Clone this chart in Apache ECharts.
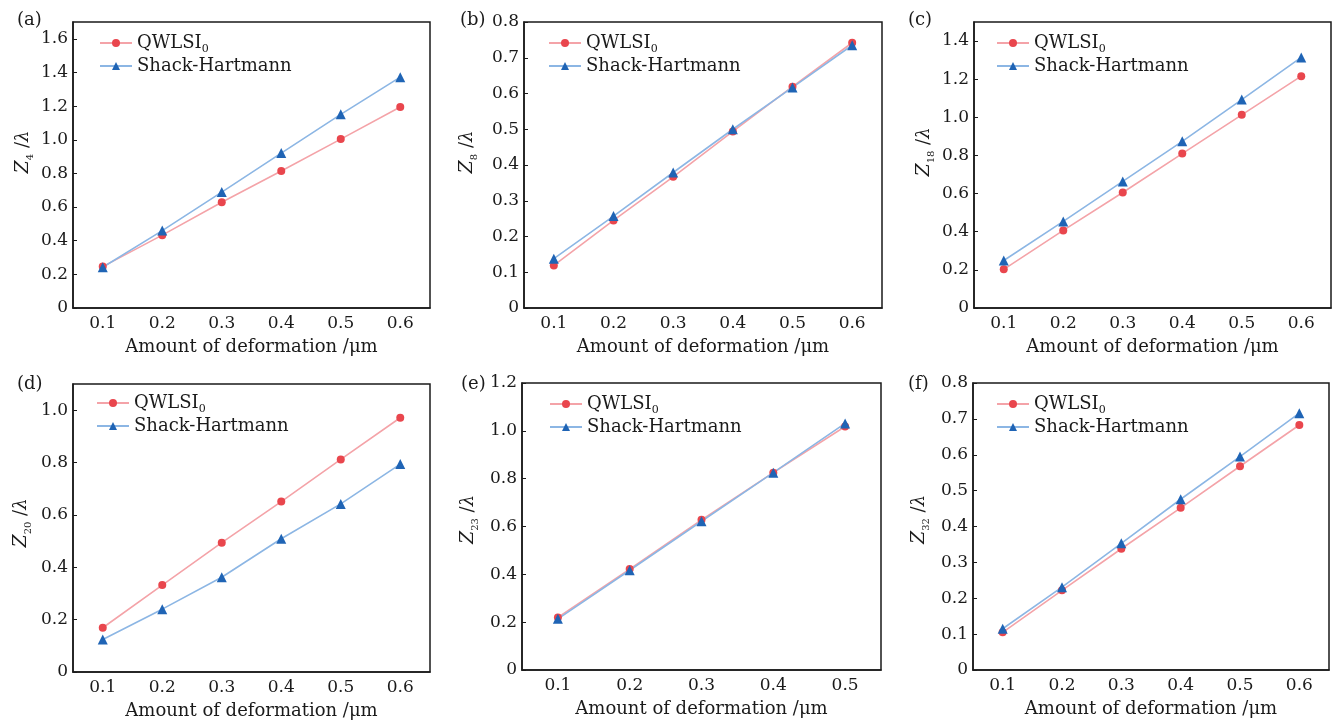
<!DOCTYPE html>
<html>
<head>
<meta charset="utf-8">
<script src="https://cdn.jsdelivr.net/npm/echarts@6/dist/echarts.min.js"></script>
<style>html,body{margin:0;padding:0;background:#fff}#c{width:1336px;height:722px}</style>
</head>
<body>
<div id="c"></div>
<script>
// ---- data ----
const xCats6 = ['0.1', '0.2', '0.3', '0.4', '0.5', '0.6'];
const xCats5 = ['0.1', '0.2', '0.3', '0.4', '0.5'];

const qwlsiZ4  = [0.246, 0.433, 0.629, 0.814, 1.004, 1.195];
const shZ4     = [0.242, 0.460, 0.689, 0.921, 1.151, 1.372];
const qwlsiZ8  = [0.119, 0.245, 0.367, 0.494, 0.619, 0.742];
const shZ8     = [0.138, 0.257, 0.379, 0.500, 0.617, 0.735];
const qwlsiZ18 = [0.203, 0.407, 0.606, 0.810, 1.013, 1.216];
const shZ18    = [0.249, 0.454, 0.664, 0.874, 1.093, 1.314];
const qwlsiZ20 = [0.169, 0.332, 0.494, 0.651, 0.812, 0.971];
const shZ20    = [0.124, 0.240, 0.362, 0.509, 0.642, 0.794];
const qwlsiZ23 = [0.220, 0.422, 0.628, 0.825, 1.018];
const shZ23    = [0.214, 0.417, 0.622, 0.825, 1.031];
const qwlsiZ32 = [0.105, 0.222, 0.338, 0.452, 0.568, 0.683];
const shZ32    = [0.115, 0.231, 0.353, 0.476, 0.595, 0.716];

const panelLabels = ['(a)', '(b)', '(c)', '(d)', '(e)', '(f)'];
const zIndex = ['4', '8', '18', '20', '23', '32'];
const xName = 'Amount of deformation /\u03bcm';
const seriesNames = ['QWLSI0', 'Shack-Hartmann'];

// ---- layout ----
const FONT = 'DejaVu Serif';
const panels = [
  {cats: xCats6, q: qwlsiZ4,  s: shZ4,  max: 1.7, iv: 0.2, grid: {left: 73,  top: 22,  width: 357, height: 286}, gap: 38, lx: 99,  ly: 34,  tx: 12,  ty: 6,   shift: 26},
  {cats: xCats6, q: qwlsiZ8,  s: shZ8,  max: 0.8, iv: 0.1, grid: {left: 524, top: 22,  width: 358, height: 286}, gap: 45, lx: 548, ly: 34,  tx: 455, ty: 6,   shift: 26},
  {cats: xCats6, q: qwlsiZ18, s: shZ18, max: 1.5, iv: 0.2, grid: {left: 974, top: 22,  width: 357, height: 286}, gap: 38, lx: 996, ly: 34,  tx: 903, ty: 6,   shift: 26},
  {cats: xCats6, q: qwlsiZ20, s: shZ20, max: 1.1, iv: 0.2, grid: {left: 73,  top: 384, width: 357, height: 288}, gap: 40, lx: 96,  ly: 394, tx: 12,  ty: 370, shift: 10},
  {cats: xCats5, q: qwlsiZ23, s: shZ23, max: 1.2, iv: 0.2, grid: {left: 522, top: 383, width: 359, height: 287}, gap: 42, lx: 549, ly: 395, tx: 456, ty: 370, shift: 14},
  {cats: xCats6, q: qwlsiZ32, s: shZ32, max: 0.8, iv: 0.1, grid: {left: 973, top: 383, width: 356, height: 287}, gap: 42, lx: 996, ly: 395, tx: 903, ty: 370, shift: 14}
];

const RED_LINE = '#f4a3a8', RED = '#e9464d';
const BLUE_LINE = '#8cb6e4', BLUE = '#1f64b5';
const DARK = '#1a1a1a';

const option = {
  backgroundColor: '#fff',
  animation: false,
  title: [], grid: [], xAxis: [], yAxis: [], legend: [], series: []
};

panels.forEach((p, i) => {
  option.title.push({text: panelLabels[i], left: p.tx, top: p.ty, textStyle: {fontFamily: FONT, fontSize: 18, fontWeight: 'normal', color: DARK}});
  option.grid.push(Object.assign({show: true, borderColor: DARK, borderWidth: 1.5, backgroundColor: 'transparent'}, p.grid));
  option.xAxis.push({
    type: 'category', gridIndex: i, data: p.cats, boundaryGap: true,
    name: xName, nameLocation: 'middle', nameGap: 30,
    nameTextStyle: {fontFamily: FONT, fontSize: 18, color: DARK},
    axisLine: {lineStyle: {color: DARK, width: 1.5}},
    axisTick: {alignWithLabel: true, inside: true, length: 4, lineStyle: {color: DARK}},
    axisLabel: {fontFamily: FONT, fontSize: 17, color: DARK, margin: 7},
    splitLine: {show: false}
  });
  const showMax = Math.abs(Math.round(p.max / p.iv) * p.iv - p.max) < 1e-9;
  option.yAxis.push({
    type: 'value', gridIndex: i, min: 0, max: p.max, interval: p.iv,
    name: '{z|Z}{zs|' + zIndex[i] + '}{t| /}{l|\u03bb}', nameLocation: 'middle', nameRotate: 90, nameGap: p.gap,
    nameTextStyle: {
      padding: [0, 0, 0, p.shift],
      rich: {
        z: {fontFamily: FONT, fontStyle: 'italic', fontSize: 19, color: DARK, lineHeight: 24},
        zs: {fontFamily: FONT, fontSize: 10, color: DARK, verticalAlign: 'bottom', lineHeight: 12},
        t: {fontFamily: FONT, fontSize: 18, color: DARK, lineHeight: 24},
        l: {fontFamily: FONT, fontStyle: 'italic', fontSize: 18, color: DARK, lineHeight: 24}
      }
    },
    axisLine: {show: true, lineStyle: {color: DARK, width: 1.5}},
    axisTick: {show: true, inside: true, length: 4, lineStyle: {color: DARK}},
    axisLabel: {fontFamily: FONT, fontSize: 17, color: DARK, margin: 5, showMaxLabel: showMax,
      formatter: v => (Math.abs(v) < 1e-9 ? '0' : v.toFixed(1))},
    splitLine: {show: false}
  });
  option.legend.push({
    left: p.lx, top: p.ly, orient: 'vertical', padding: 0, itemGap: 2,
    itemWidth: 32, itemHeight: 10,
    data: seriesNames,
    formatter: n => (n === 'QWLSI0' ? '{m|QWLSI}{s|0}' : '{m|Shack-Hartmann}'),
    textStyle: {
      fontFamily: FONT, fontSize: 18, color: DARK,
      rich: {
        m: {fontFamily: FONT, fontSize: 18, color: DARK, lineHeight: 24},
        s: {fontFamily: FONT, fontSize: 11, color: DARK, verticalAlign: 'bottom', lineHeight: 11}
      }
    }
  });
  option.series.push({
    name: 'QWLSI0', type: 'line', xAxisIndex: i, yAxisIndex: i, data: p.q,
    symbol: 'circle', symbolSize: 8,
    lineStyle: {color: RED_LINE, width: 1.6}, itemStyle: {color: RED}
  });
  option.series.push({
    name: 'Shack-Hartmann', type: 'line', xAxisIndex: i, yAxisIndex: i, data: p.s,
    symbol: 'triangle', symbolSize: 10,
    lineStyle: {color: BLUE_LINE, width: 1.6}, itemStyle: {color: BLUE}
  });
});

const chart = echarts.init(document.getElementById('c'), null, {renderer: 'canvas'});
chart.setOption(option);
</script>
</body>
</html>
